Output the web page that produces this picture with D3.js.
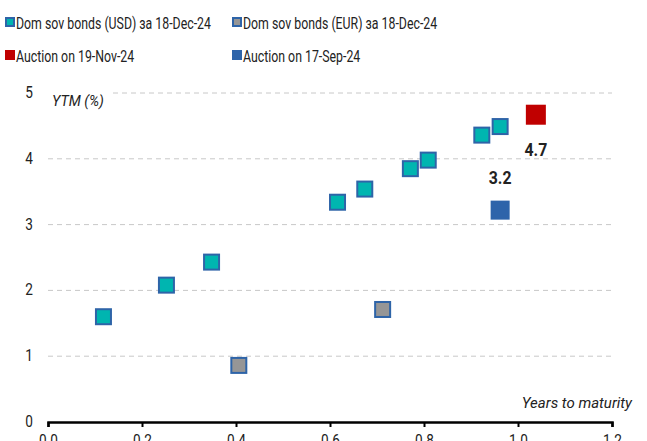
<!DOCTYPE html>
<html>
<head>
<meta charset="utf-8">
<script src="https://cdn.jsdelivr.net/npm/d3@7"></script>
<style>
  body { margin: 0; background: #fff; }
  svg text { font-family: "Liberation Sans Narrow", "Roboto", sans-serif; fill: #222; }
</style>
</head>
<body>
<div id="chart"></div>
<script>
// bonds USD (years to maturity, ytm %)
const usdMaturity = [0.118, 0.252, 0.348, 0.616, 0.674, 0.771, 0.809, 0.923, 0.962];
const usdYtm = [1.60, 2.08, 2.43, 3.34, 3.54, 3.85, 3.98, 4.36, 4.49];

// bonds EUR
const eurMaturity = [0.406, 0.712];
const eurYtm = [0.86, 1.71];

// auctions
const auctionNames = ["Auction on 19-Nov-24", "Auction on 17-Sep-24"];
const auctionMaturity = [1.038, 0.962];
const auctionYtm = [4.67, 3.22];
const auctionLabels = ["4.7", "3.2"];

const xTicks = [0, 0.2, 0.4, 0.6, 0.8, 1.0, 1.2];
const yTicks = [0, 1, 2, 3, 4, 5];

const legendLabels = ["Dom sov bonds (USD) за 18-Dec-24", "Dom sov bonds (EUR) за 18-Dec-24",
  auctionNames[0], auctionNames[1]];

const width = 647, height = 441;
const margin = {left: 48, right: 35, top: 93, bottom: 19};

const svg = d3.select("#chart").append("svg")
  .attr("width", width)
  .attr("height", height);

const x = d3.scaleLinear().domain([0, 1.2]).range([margin.left, width - margin.right]);
const y = d3.scaleLinear().domain([0, 5]).range([height - margin.bottom, margin.top]);

const teal = "#00b5b0", border = "#2e64a8", grey = "#969696", red = "#c00000", blue = "#2e64aa";

// squeeze text horizontally, the original uses a narrow font
function condense(sel, f) {
  sel.each(function () {
    const len = this.getComputedTextLength();
    d3.select(this)
      .attr("textLength", len * f)
      .attr("lengthAdjust", "spacingAndGlyphs");
  });
}

// gridlines
yTicks.filter(d => d > 0).forEach(t => {
  svg.append("line")
    .attr("x1", t === 5 ? 113 : x(0))
    .attr("x2", x(1.2))
    .attr("y1", y(t)).attr("y2", y(t))
    .attr("stroke", "#c8c8c8")
    .attr("stroke-width", 1)
    .attr("stroke-dasharray", "5,4");
});

// y tick labels
svg.selectAll(".ytick")
  .data(yTicks)
  .enter()
  .append("text")
  .attr("class", "ytick")
  .attr("x", 33)
  .attr("y", d => y(d) + 5)
  .attr("text-anchor", "end")
  .attr("font-size", "16px")
  .text(d => d)
  .call(condense, 0.85);

// x axis
const xAxis = svg.append("g")
  .attr("transform", `translate(0,${y(0)})`)
  .call(d3.axisBottom(x).tickValues(xTicks).tickSize(5).tickPadding(8).tickFormat(d3.format(".1f")));
xAxis.select(".domain").attr("stroke", "#000").attr("stroke-width", 2.5);
xAxis.selectAll(".tick line").attr("stroke", "#000").attr("stroke-width", 2);
xAxis.selectAll(".tick text").attr("font-size", "16px").attr("fill", "#222")
  .style("font-family", "'Liberation Sans Narrow', Roboto, sans-serif")
  .call(condense, 0.85);

// axis titles
svg.append("text")
  .attr("x", 52)
  .attr("y", 106)
  .attr("font-size", "15px")
  .attr("font-style", "italic")
  .text("YTM (%)")
  .call(condense, 0.95);

svg.append("text")
  .attr("x", 632)
  .attr("y", 408)
  .attr("text-anchor", "end")
  .attr("font-size", "15px")
  .attr("font-style", "italic")
  .text("Years to maturity");

// markers
function squares(xs, ys, size, fill, stroke) {
  svg.append("g").selectAll("rect")
    .data(xs.map((d, i) => [d, ys[i]]))
    .enter()
    .append("rect")
    .attr("x", d => x(d[0]) - size / 2)
    .attr("y", d => y(d[1]) - size / 2)
    .attr("width", size)
    .attr("height", size)
    .attr("fill", fill)
    .attr("stroke", stroke || "none")
    .attr("stroke-width", stroke ? 2 : 0);
}

squares(usdMaturity, usdYtm, 15, teal, border);
squares(eurMaturity, eurYtm, 15, grey, border);
squares([auctionMaturity[0]], [auctionYtm[0]], 20, red);
squares([auctionMaturity[1]], [auctionYtm[1]], 19, blue);

// auction labels
svg.append("text")
  .attr("x", x(auctionMaturity[0]))
  .attr("y", y(auctionYtm[0]) + 41)
  .attr("text-anchor", "middle")
  .attr("font-size", "18px")
  .attr("font-weight", "bold")
  .attr("fill", "#000")
  .text(auctionLabels[0])
  .call(condense, 0.88);

svg.append("text")
  .attr("x", x(auctionMaturity[1]))
  .attr("y", y(auctionYtm[1]) - 26)
  .attr("text-anchor", "middle")
  .attr("font-size", "18px")
  .attr("font-weight", "bold")
  .attr("fill", "#000")
  .text(auctionLabels[1])
  .call(condense, 0.88);

// legend
const legendItems = [
  {x: 5, y: 17, fill: teal, stroke: border},
  {x: 232, y: 17, fill: grey, stroke: border},
  {x: 5, y: 50, fill: red},
  {x: 232, y: 50, fill: blue}
];
legendItems.forEach((d, i) => {
  svg.append("rect")
    .attr("x", d.stroke ? d.x + 1 : d.x)
    .attr("y", d.stroke ? d.y + 1 : d.y)
    .attr("width", d.stroke ? 8 : 10)
    .attr("height", d.stroke ? 8 : 10)
    .attr("fill", d.fill)
    .attr("stroke", d.stroke || "none")
    .attr("stroke-width", d.stroke ? 2 : 0);
  svg.append("text")
    .attr("x", d.x + 11)
    .attr("y", d.y + 12)
    .attr("font-size", "16px")
    .text(legendLabels[i])
    .call(condense, 0.77);
});
</script>
</body>
</html>
